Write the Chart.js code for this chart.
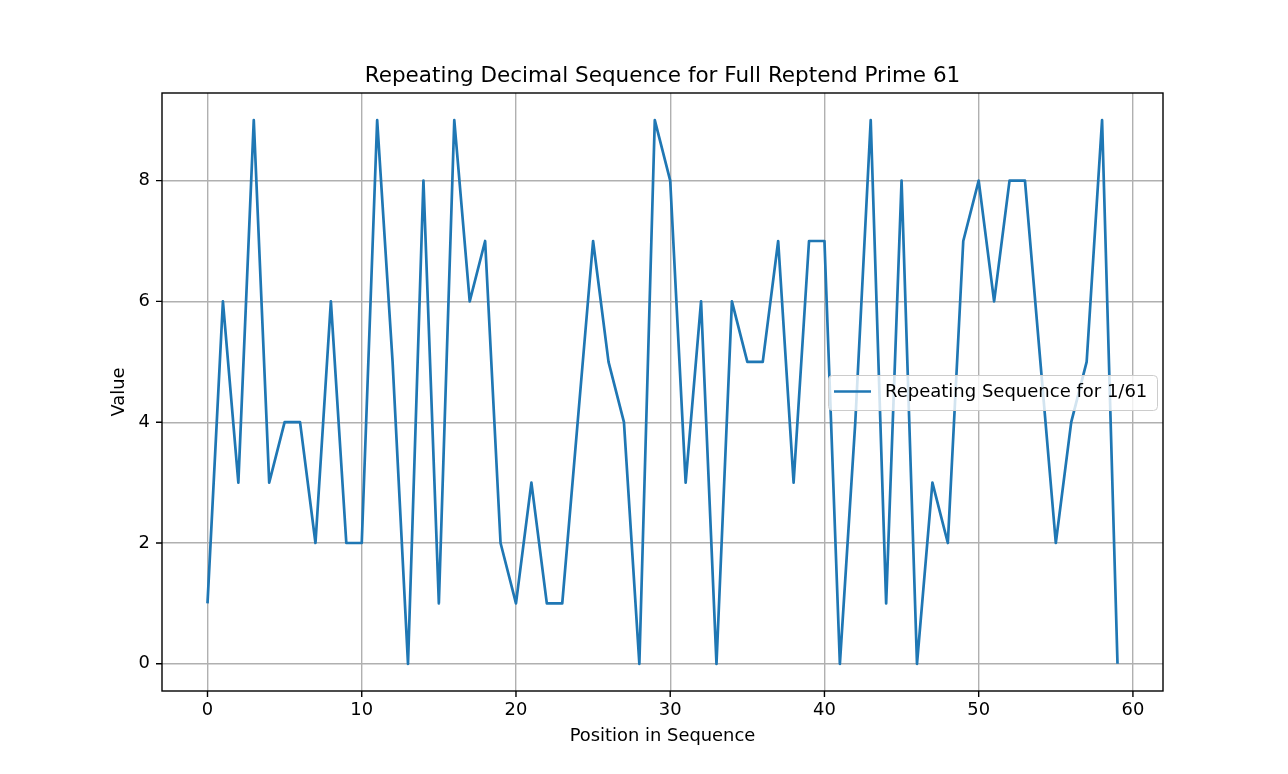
<!DOCTYPE html>
<html><head><meta charset="utf-8">
<script src="https://cdn.jsdelivr.net/npm/chart.js@4"></script>
<style>html,body{margin:0;padding:0;background:#fff}#wrap{width:1288px;height:774px}</style>
</head><body><div id="wrap"><canvas id="c" width="1288" height="774"></canvas></div>
<script>
const positions = Array.from({length:60},(_,i)=>i);
const digits = [1,6,3,9,3,4,4,2,6,2,2,9,5,0,8,1,9,6,7,2,1,3,1,1,4,7,5,4,0,9,8,3,6,0,6,5,5,7,3,7,7,0,4,9,1,8,0,3,2,7,8,6,8,8,5,2,4,5,9,0];
const xTicks = [0,10,20,30,40,50,60];
const yTicks = [0,2,4,6,8];
const seriesLabel = 'Repeating Sequence for 1/61';
const titleText = 'Repeating Decimal Sequence for Full Reptend Prime 61';

const FONT = 'DejaVu Sans';
const frame = {
  id:'frame',
  afterDraw(chart){
    const {ctx, chartArea:a, scales} = chart;
    ctx.save();
    ctx.strokeStyle='#000'; ctx.lineWidth=1.4;
    ctx.strokeRect(a.left, a.top, a.right-a.left, a.bottom-a.top);
    ctx.lineWidth=1.4;
    ctx.beginPath();
    xTicks.forEach(v=>{const x=scales.x.getPixelForValue(v);ctx.moveTo(x,a.bottom);ctx.lineTo(x,a.bottom+6);});
    yTicks.forEach(v=>{const y=scales.y.getPixelForValue(v);ctx.moveTo(a.left,y);ctx.lineTo(a.left-6,y);});
    ctx.stroke();
    // title
    ctx.fillStyle='#000'; ctx.font='21.5px "'+FONT+'"'; ctx.textAlign='center'; ctx.textBaseline='alphabetic';
    ctx.fillText(titleText,(a.left+a.right)/2,82);
    // legend
    const lx=828, ly=375, lw=329, lh=35;
    ctx.fillStyle='rgba(255,255,255,0.8)';
    ctx.strokeStyle='#cccccc'; ctx.lineWidth=1;
    ctx.beginPath();
    if(ctx.roundRect) ctx.roundRect(lx+0.5,ly+0.5,lw,lh,4); else ctx.rect(lx+0.5,ly+0.5,lw,lh);
    ctx.fill(); ctx.stroke();
    ctx.strokeStyle='#1f77b4'; ctx.lineWidth=2.7;
    ctx.beginPath(); ctx.moveTo(834,391.5); ctx.lineTo(871,391.5); ctx.stroke();
    ctx.fillStyle='#000'; ctx.font='18px "'+FONT+'"'; ctx.textBaseline='middle'; ctx.textAlign='left';
    ctx.fillText(chart.data.datasets[0].label, 885, 392);
    ctx.restore();
  }
};

new Chart(document.getElementById('c'),{
  type:'line',
  data:{datasets:[{label:seriesLabel,data:positions.map((p,i)=>({x:p,y:digits[i]})),borderColor:'#1f77b4',borderWidth:2.7,borderJoinStyle:'round',borderCapStyle:'butt',pointRadius:0,fill:false,tension:0}]},
  options:{
    responsive:false,animation:false,
    layout:{padding:{left:0,right:125,top:93,bottom:0}},
    plugins:{legend:{display:false},tooltip:{enabled:false},title:{display:false}},
    scales:{
      x:{type:'linear',min:-2.95,max:61.95,
        afterBuildTicks(s){s.ticks=xTicks.map(v=>({value:v}));},
        afterFit(s){s.height=83;},
        grid:{color:'#b0b0b0',lineWidth:1.4,drawTicks:false},border:{display:false},
        ticks:{color:'#000',font:{family:FONT,size:17.9},padding:9,maxRotation:0},
        title:{display:true,text:'Position in Sequence',color:'#000',font:{family:FONT,size:17.9},padding:{top:0,bottom:27}}
      },
      y:{type:'linear',min:-0.45,max:9.45,
        afterBuildTicks(s){s.ticks=yTicks.map(v=>({value:v}));},
        afterFit(s){s.width=162;},
        grid:{color:'#b0b0b0',lineWidth:1.4,drawTicks:false},border:{display:false},
        ticks:{color:'#000',font:{family:FONT,size:17.9},padding:12},
        title:{display:true,text:'Value',color:'#000',font:{family:FONT,size:17.9},padding:{top:109,bottom:0}}
      }
    }
  },
  plugins:[frame]
});
</script></body></html>
